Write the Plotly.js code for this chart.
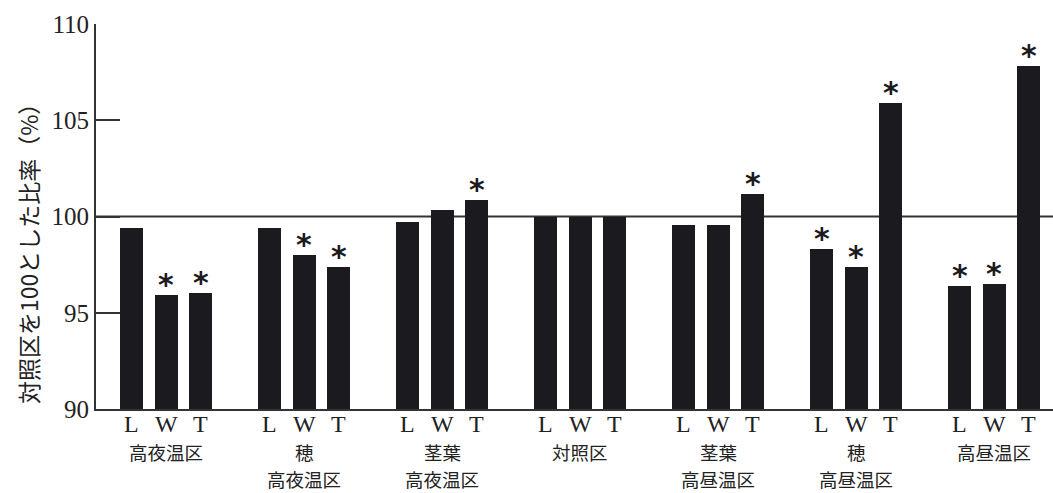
<!DOCTYPE html>
<html>
<head>
<meta charset="utf-8">
<script src="https://cdn.plot.ly/plotly-3.0.1.min.js"></script>
<style>html,body{margin:0;padding:0;background:#fff;}#chart{width:1053px;height:493px;}</style>
</head>
<body>
<div id="chart"></div>
<script>
// Data
const groupLine1 = ['高夜温区', '穂', '茎葉', '対照区', '茎葉', '穂', '高昼温区'];
const groupLine2 = ['', '高夜温区', '高夜温区', '', '高昼温区', '高昼温区', ''];
const parts = ['L', 'W', 'T'];
const valuesL = [99.4, 99.4, 99.7, 100, 99.55, 98.3, 96.4];
const valuesW = [95.9, 98.0, 100.35, 100, 99.55, 97.4, 96.5];
const valuesT = [96.05, 97.4, 100.85, 100, 101.15, 105.9, 107.8];
const sigL = [0, 0, 0, 0, 0, 1, 1];
const sigW = [1, 1, 0, 0, 0, 1, 1];
const sigT = [1, 1, 1, 0, 1, 1, 1];
const yTicks = [90, 95, 100, 105, 110];

const series = [valuesL, valuesW, valuesT];
const sigs = [sigL, sigW, sigT];
const barColor = '#1b1a1e';
const serif = '"Liberation Serif", "DejaVu Serif", serif';
const jp = '"Noto Sans CJK JP", sans-serif';

const traces = [];
const annotations = [];
series.forEach((vals, j) => {
  const xs = vals.map((v, g) => 4 * g + j);
  traces.push({type: 'bar', x: xs, y: vals, width: 0.67, marker: {color: barColor}, hoverinfo: 'skip', showlegend: false});
  vals.forEach((v, g) => {
    // part label under each bar
    annotations.push({x: 4 * g + j, xref: 'x', y: -0.039, yref: 'paper', xanchor: 'center', yanchor: 'middle',
      text: parts[j], showarrow: false, font: {family: serif, size: 24, color: '#222'}});
    if (sigs[j][g]) {
      annotations.push({x: 4 * g + j, xref: 'x', y: v, yref: 'y', xanchor: 'center', yanchor: 'bottom',
        yshift: -9, text: '*', showarrow: false,
        font: {family: '"DejaVu Sans", sans-serif', size: 30, color: barColor, weight: 'bold'}});
    }
  });
});

[groupLine1, groupLine2].forEach((lines, k) => lines.forEach((t, i) => {
  if (!t) return;
  annotations.push({
    x: 4 * i + 1, xref: 'x', y: k === 0 ? -0.1117 : -0.1818, yref: 'paper', yanchor: 'middle', xanchor: 'center',
    borderpad: 0, text: t, showarrow: false, font: {family: jp, size: 18.5, color: '#222'}
  });
}));
annotations.push({
  x: -0.071, xref: 'paper', y: 0.418, yref: 'paper', xanchor: 'center', yanchor: 'middle',
  text: '対照区を100とした比率（%）', textangle: -90, showarrow: false,
  font: {family: jp, size: 23, color: '#222'}
});

const layout = {
  width: 1053, height: 493,
  margin: {l: 96, r: 0, t: 24, b: 84},
  paper_bgcolor: '#fff', plot_bgcolor: '#fff',
  bargap: 0,
  xaxis: {range: [-1.03, 26.7], showticklabels: false, showgrid: false, zeroline: false,
    showline: true, linecolor: '#333', linewidth: 2, ticks: ''},
  yaxis: {range: [90, 110], tickvals: yTicks, showgrid: false, zeroline: false,
    showline: true, linecolor: '#333', linewidth: 2, ticks: 'inside', ticklen: 24, tickwidth: 2, tickcolor: '#333',
    tickfont: {family: serif, size: 25, color: '#222'}},
  shapes: [{type: 'line', xref: 'paper', x0: 0, x1: 1, yref: 'y', y0: 100, y1: 100, line: {color: '#333', width: 2}, layer: 'below'}],
  annotations: annotations
};

Plotly.newPlot('chart', traces, layout, {staticPlot: true, displayModeBar: false});
</script>
</body>
</html>
